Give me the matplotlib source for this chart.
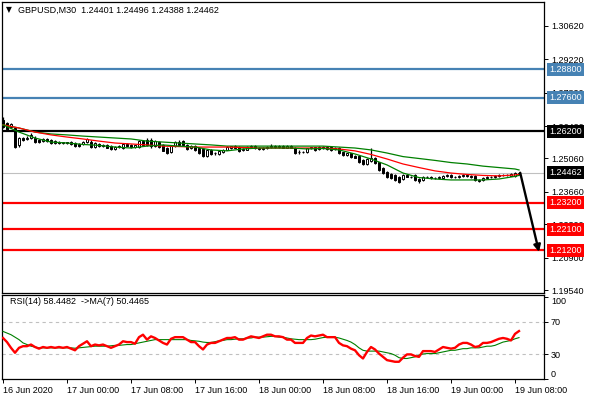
import matplotlib
matplotlib.use('Agg')
import matplotlib.pyplot as plt
from matplotlib.transforms import blended_transform_factory

# ---------------- data ----------------
symbol = "GBPUSD,M30"

opens = [1.2668, 1.2654, 1.2640, 1.2633, 1.2563, 1.2591, 1.2588, 1.2591, 1.2594, 1.2584,
         1.2580, 1.2587, 1.2584, 1.2571, 1.2577, 1.2570, 1.2574, 1.2577, 1.2570, 1.2568,
         1.2566, 1.2574, 1.2577, 1.2556, 1.2566, 1.2559, 1.2563, 1.2559, 1.2546, 1.2555,
         1.2549, 1.2566, 1.2561, 1.2554, 1.2553, 1.2578, 1.2585, 1.2585, 1.2557, 1.2575,
         1.2564, 1.2550, 1.2533, 1.2557, 1.2575, 1.2578, 1.2564, 1.2549, 1.2557, 1.2550,
         1.2547, 1.2515, 1.2543, 1.2527, 1.2525, 1.2533, 1.2543, 1.2550, 1.2557, 1.2553,
         1.2540, 1.2543, 1.2553, 1.2557, 1.2550, 1.2547, 1.2550, 1.2556, 1.2560, 1.2555,
         1.2559, 1.2551, 1.2558, 1.2549, 1.2532, 1.2535, 1.2535, 1.2549, 1.2553, 1.2546,
         1.2555, 1.2546, 1.2556, 1.2545, 1.2551, 1.2532, 1.2521, 1.2528, 1.2518, 1.2518,
         1.2500, 1.2481, 1.2496, 1.2509, 1.2490, 1.2465, 1.2451, 1.2440, 1.2435, 1.2430,
         1.2419, 1.2437, 1.2430, 1.2437, 1.2420, 1.2416, 1.2430, 1.2427, 1.2425, 1.2423,
         1.2423, 1.2433, 1.2437, 1.2427, 1.2430, 1.2433, 1.2437, 1.2433, 1.2433, 1.2412,
         1.2417, 1.2423, 1.2430, 1.2427, 1.2434, 1.2436, 1.2438, 1.2434, 1.2433, 1.24401]
highs = [1.2682, 1.2661, 1.2655, 1.2640, 1.2597, 1.2596, 1.2600, 1.2612, 1.2600, 1.2588,
         1.2592, 1.2591, 1.2588, 1.2584, 1.2581, 1.2577, 1.2577, 1.2580, 1.2574, 1.2572,
         1.2581, 1.2592, 1.2584, 1.2574, 1.2570, 1.2567, 1.2566, 1.2562, 1.2559, 1.2563,
         1.2570, 1.2570, 1.2566, 1.2564, 1.2585, 1.2582, 1.2592, 1.2592, 1.2582, 1.2579,
         1.2568, 1.2553, 1.2560, 1.2578, 1.2585, 1.2584, 1.2568, 1.2561, 1.2561, 1.2553,
         1.2550, 1.2547, 1.2547, 1.2533, 1.2540, 1.2547, 1.2557, 1.2560, 1.2561, 1.2557,
         1.2549, 1.2557, 1.2561, 1.2561, 1.2554, 1.2555, 1.2559, 1.2565, 1.2563, 1.2562,
         1.2562, 1.2562, 1.2562, 1.2553, 1.2541, 1.2538, 1.2552, 1.2556, 1.2556, 1.2558,
         1.2560, 1.2559, 1.2560, 1.2554, 1.2555, 1.2535, 1.2531, 1.2531, 1.2522, 1.2521,
         1.2503, 1.2508, 1.2551, 1.2512, 1.2493, 1.2470, 1.2455, 1.2447, 1.2439, 1.2434,
         1.2441, 1.2441, 1.2434, 1.2440, 1.2423, 1.2434, 1.2434, 1.2431, 1.2429, 1.2434,
         1.2437, 1.2441, 1.2440, 1.2434, 1.2437, 1.2441, 1.2440, 1.2437, 1.2437, 1.2420,
         1.2430, 1.2434, 1.2433, 1.2437, 1.2441, 1.2441, 1.2442, 1.2444, 1.2451, 1.24496]
lows = [1.2633, 1.2620, 1.2632, 1.2548, 1.2555, 1.2578, 1.2583, 1.2588, 1.2570, 1.2570,
        1.2576, 1.2577, 1.2566, 1.2567, 1.2567, 1.2567, 1.2566, 1.2563, 1.2556, 1.2556,
        1.2563, 1.2570, 1.2552, 1.2552, 1.2554, 1.2555, 1.2549, 1.2543, 1.2543, 1.2551,
        1.2545, 1.2557, 1.2552, 1.2551, 1.2550, 1.2561, 1.2560, 1.2550, 1.2553, 1.2550,
        1.2536, 1.2524, 1.2530, 1.2553, 1.2560, 1.2560, 1.2543, 1.2545, 1.2539, 1.2525,
        1.2511, 1.2511, 1.2521, 1.2520, 1.2521, 1.2529, 1.2540, 1.2547, 1.2548, 1.2535,
        1.2537, 1.2540, 1.2549, 1.2547, 1.2542, 1.2543, 1.2547, 1.2552, 1.2551, 1.2551,
        1.2548, 1.2548, 1.2548, 1.2525, 1.2523, 1.2530, 1.2531, 1.2545, 1.2539, 1.2542,
        1.2546, 1.2543, 1.2538, 1.2541, 1.2524, 1.2517, 1.2517, 1.2510, 1.2507, 1.2489,
        1.2477, 1.2477, 1.2493, 1.2482, 1.2454, 1.2443, 1.2426, 1.2418, 1.2412, 1.2402,
        1.2415, 1.2427, 1.2423, 1.2413, 1.2405, 1.2412, 1.2424, 1.2421, 1.2419, 1.2420,
        1.2420, 1.2429, 1.2424, 1.2423, 1.2426, 1.2430, 1.2430, 1.2426, 1.2413, 1.2409,
        1.2413, 1.2419, 1.2424, 1.2423, 1.2430, 1.2432, 1.2431, 1.2431, 1.2430, 1.24388]
closes = [1.2640, 1.2626, 1.2650, 1.2556, 1.2591, 1.2583, 1.2594, 1.2605, 1.2574, 1.2574,
          1.2588, 1.2580, 1.2570, 1.2580, 1.2570, 1.2574, 1.2569, 1.2566, 1.2559, 1.2560,
          1.2577, 1.2588, 1.2556, 1.2570, 1.2558, 1.2563, 1.2552, 1.2546, 1.2556, 1.2559,
          1.2566, 1.2560, 1.2556, 1.2561, 1.2581, 1.2564, 1.2564, 1.2557, 1.2578, 1.2554,
          1.2539, 1.2529, 1.2557, 1.2575, 1.2564, 1.2564, 1.2547, 1.2557, 1.2543, 1.2529,
          1.2515, 1.2543, 1.2525, 1.2528, 1.2536, 1.2543, 1.2553, 1.2557, 1.2552, 1.2539,
          1.2545, 1.2553, 1.2557, 1.2550, 1.2546, 1.2551, 1.2556, 1.2560, 1.2555, 1.2559,
          1.2551, 1.2558, 1.2552, 1.2528, 1.2535, 1.2534, 1.2549, 1.2553, 1.2542, 1.2555,
          1.2550, 1.2555, 1.2541, 1.2551, 1.2528, 1.2521, 1.2528, 1.2514, 1.2510, 1.2493,
          1.2481, 1.2504, 1.2507, 1.2486, 1.2458, 1.2447, 1.2430, 1.2424, 1.2416, 1.2409,
          1.2437, 1.2430, 1.2427, 1.2416, 1.2410, 1.2430, 1.2427, 1.2425, 1.2423, 1.2430,
          1.2433, 1.2437, 1.2427, 1.2430, 1.2433, 1.2437, 1.2433, 1.2430, 1.2416, 1.2417,
          1.2426, 1.2430, 1.2428, 1.2434, 1.2437, 1.2438, 1.2435, 1.2440, 1.2447, 1.24462]

# moving averages on the price chart, read every 4 bars
ma_idx = [0, 4, 8, 12, 16, 20, 24, 28, 32, 36, 40, 44, 48, 52, 56, 60, 64,
          68, 72, 76, 80, 84, 88, 92, 96, 100, 104, 108, 112, 116, 120, 124, 128, 129]
ma_fast = [1.2647, 1.2617, 1.2592, 1.2575, 1.2571, 1.2565, 1.2561, 1.2554, 1.2550, 1.2558,
           1.2563, 1.2558, 1.2554, 1.2542, 1.2538, 1.2546, 1.2550, 1.2550, 1.2550, 1.2546,
           1.2548, 1.2542, 1.2525, 1.2504, 1.2479, 1.2445, 1.2426, 1.2420, 1.2416, 1.2416,
           1.2416, 1.2420, 1.2431, 1.2435]
ma_mid = [1.2647, 1.2634, 1.2617, 1.2605, 1.2596, 1.2588, 1.2579, 1.2571, 1.2567, 1.2563,
          1.2558, 1.2556, 1.2554, 1.2554, 1.2554, 1.2552, 1.2550, 1.2550, 1.2550, 1.2550,
          1.2550, 1.2546, 1.2538, 1.2523, 1.2504, 1.2483, 1.2468, 1.2454, 1.2445, 1.2439,
          1.2435, 1.2433, 1.2437, 1.2439]
ma_slow = [1.2647, 1.2634, 1.2617, 1.2609, 1.2605, 1.2600, 1.2596, 1.2592, 1.2588, 1.2579,
           1.2575, 1.2571, 1.2567, 1.2563, 1.2558, 1.2558, 1.2558, 1.2558, 1.2558, 1.2558,
           1.2558, 1.2554, 1.2550, 1.2542, 1.2529, 1.2514, 1.2506, 1.2498, 1.2489, 1.2483,
           1.2474, 1.2468, 1.2462, 1.2458]

# horizontal levels
levels_blue = [1.2880, 1.2760]
levels_black = [1.2620]
levels_red = [1.2320, 1.2210, 1.2120]
arrow_end = 1.2114

price_ticks = [1.30620, 1.29220, 1.27820, 1.26420, 1.25060, 1.23660, 1.22300, 1.20900, 1.19540]

rsi = [50, 45, 38, 32, 38, 40, 40, 42, 39, 37,
       39, 38, 39, 38, 39, 38, 39, 37, 35, 40,
       43, 46, 40, 42, 41, 42, 40, 38, 40, 42,
       46, 45, 45, 43, 51, 54, 48, 52, 50, 47,
       44, 42, 49, 51, 51, 51, 48, 45, 45, 40,
       36, 42, 44, 44, 46, 48, 50, 50, 51, 48,
       48, 50, 52, 51, 50, 52, 54, 54, 52, 52,
       51, 48, 48, 44, 44, 44, 50, 53, 52, 53,
       54, 51, 51, 51, 44, 41, 40, 37, 35, 29,
       25, 33, 39, 36, 31, 27, 23, 22, 21, 21,
       26, 30, 30, 28, 27, 34, 34, 34, 33, 36,
       39, 38, 37, 38, 42, 44, 44, 42, 39, 40,
       44, 44, 45, 47, 49, 50, 49, 47, 55, 58.4482]
rsi_ma = [58, 56, 54, 51, 48, 44, 42, 40, 39, 38,
          38, 38, 38, 38, 38, 38, 38, 38, 37.5, 38,
          38.5, 39, 39.5, 40, 40, 40, 40, 40.5, 41, 41,
          41.5, 42, 42, 43, 44, 45, 46, 47, 48, 48,
          48, 48, 48, 48, 48, 48, 48, 47, 46.5, 46,
          45, 44.5, 44.5, 45.5, 46.5, 47, 48, 48, 48.5, 49,
          49, 50, 50, 51, 51, 51, 51.5, 52, 52, 51,
          51, 50, 49, 48.5, 48, 48, 48, 48, 48.5, 49.5,
          50.5, 51, 51, 51, 50, 48.5, 47, 45, 42, 38,
          35, 34, 34, 34, 34, 33, 32, 31, 29, 26,
          25, 25, 26, 27, 29, 30.5, 31, 31, 31, 32,
          33, 34, 35, 35, 36, 37, 37, 38, 38, 38,
          39, 40, 40, 41, 43, 45, 46, 47, 49, 50.4465]
rsi_ticks = [100, 70, 30, 0]
rsi_levels = [70, 30]

time_tick_idx = [0, 16, 32, 48, 64, 80, 96, 112, 128]
time_labels = ["16 Jun 2020", "17 Jun 00:00", "17 Jun 08:00", "17 Jun 16:00",
               "18 Jun 00:00", "18 Jun 08:00", "18 Jun 16:00", "19 Jun 00:00", "19 Jun 08:00"]

# ---------------- figure ----------------
plt.rcParams['font.family'] = ['Liberation Sans', 'DejaVu Sans']
FS = 6.5
W, H = 590, 400
fig = plt.figure(figsize=(W / 100, H / 100), dpi=100)
fig.patch.set_facecolor('white')


def frac(l, t, r, b):
    return [l / W, 1 - b / H, (r - l) / W, (b - t) / H]


ax = fig.add_axes(frac(2, 2, 544, 293))
ax2 = fig.add_axes(frac(2, 295, 544, 379))

n = len(closes)
x = list(range(n))
XL = (-0.25, 135.25)

# --- candles ---
ax.vlines(x, lows, highs, color='black', lw=0.9, zorder=3)
bottoms = [min(o, c) for o, c in zip(opens, closes)]
heights = [max(abs(c - o), 0.00005) for o, c in zip(opens, closes)]
faces = ['white' if c >= o else 'black' for o, c in zip(opens, closes)]
ax.bar(x, heights, bottom=bottoms, width=0.72, color=faces, edgecolor='black',
       linewidth=0.7, zorder=4)

# --- moving averages ---
ax.plot(ma_idx, ma_slow, color='#008000', lw=0.9, zorder=5)
ax.plot(ma_idx, ma_mid, color='#FF0000', lw=0.9, zorder=5)
ax.plot(ma_idx, ma_fast, color='#008000', lw=0.9, zorder=5)

# --- levels ---
trans = blended_transform_factory(ax.transAxes, ax.transData)
groups = [(levels_blue, '#4682B4'), (levels_black, 'black'), (levels_red, '#FF0000')]
for levs, col in groups:
    for v in levs:
        ax.axhline(v, color=col, lw=1.6, zorder=2)
        ax.text(1.0095, v, f"{v:.5f}", transform=trans, ha='left', va='center',
                color='white', fontsize=FS, clip_on=False, zorder=10,
                bbox=dict(boxstyle='square,pad=0.22', fc=col, ec='none'))

last = closes[-1]
ax.axhline(last, color='#C0C0C0', lw=0.8, zorder=1)
ax.text(1.0095, last, f"{last:.5f}", transform=trans, ha='left', va='center',
        color='white', fontsize=FS, clip_on=False, zorder=10,
        bbox=dict(boxstyle='square,pad=0.22', fc='black', ec='none'))

# --- arrow ---
ax.annotate('', xy=(n - 1 + 5.0, arrow_end), xytext=(n - 1 + 0.3, last),
            arrowprops=dict(arrowstyle='-|>', color='black', lw=1.7,
                            mutation_scale=10, shrinkA=0, shrinkB=0), zorder=8)

ax.set_xlim(*XL)
ax.set_ylim(1.19416, 1.31627)
ax.set_xticks([])
ax.yaxis.tick_right()
ax.set_yticks(price_ticks)
ax.set_yticklabels([f"{v:.5f}" for v in price_ticks])
ax.tick_params(axis='y', length=3, width=0.7, pad=2, labelsize=FS, colors='black')
for s in ax.spines.values():
    s.set_linewidth(0.9)
    s.set_color('black')

# title
fig.text(6 / W, 1 - 10 / H, '\u25BC', fontsize=5.5, ha='left', va='center',
         family=['DejaVu Sans'])
fig.text(18 / W, 1 - 10 / H,
         f"{symbol}  {opens[-1]:.5f} {highs[-1]:.5f} {lows[-1]:.5f} {closes[-1]:.5f}",
         fontsize=FS, ha='left', va='center')

# --- RSI panel ---
for lv in rsi_levels:
    ax2.axhline(lv, color='#C0C0C0', lw=0.8, ls=(0, (3, 3)), zorder=1)
ax2.plot(x, rsi_ma, color='#008000', lw=0.8, zorder=3)
ax2.plot(x, rsi, color='#FF0000', lw=1.7, zorder=4)
ax2.set_xlim(*XL)
ax2.set_ylim(0, 102.4)
ax2.yaxis.tick_right()
ax2.set_yticks(rsi_ticks)
ax2.set_yticklabels([str(v) for v in rsi_ticks])
ax2.tick_params(axis='y', length=3, width=0.7, pad=2, labelsize=FS)
for lab, v in zip(ax2.get_yticklabels(), rsi_ticks):
    if v == 100:
        lab.set_va('top')
    elif v == 0:
        lab.set_va('bottom')
ax2.set_xticks(time_tick_idx)
ax2.set_xticklabels(time_labels)
ax2.tick_params(axis='x', length=3, width=0.7, pad=2, labelsize=FS)
for lab in ax2.get_xticklabels():
    lab.set_ha('left')
for s in ax2.spines.values():
    s.set_linewidth(0.9)
    s.set_color('black')
ax2.text(8 / 542, 1 - 7 / 84,
         f"RSI(14) {rsi[-1]:.4f}  ->MA(7) {rsi_ma[-1]:.4f}",
         transform=ax2.transAxes, fontsize=FS, ha='left', va='center')

fig.savefig('out.png', dpi=100, facecolor='white')
